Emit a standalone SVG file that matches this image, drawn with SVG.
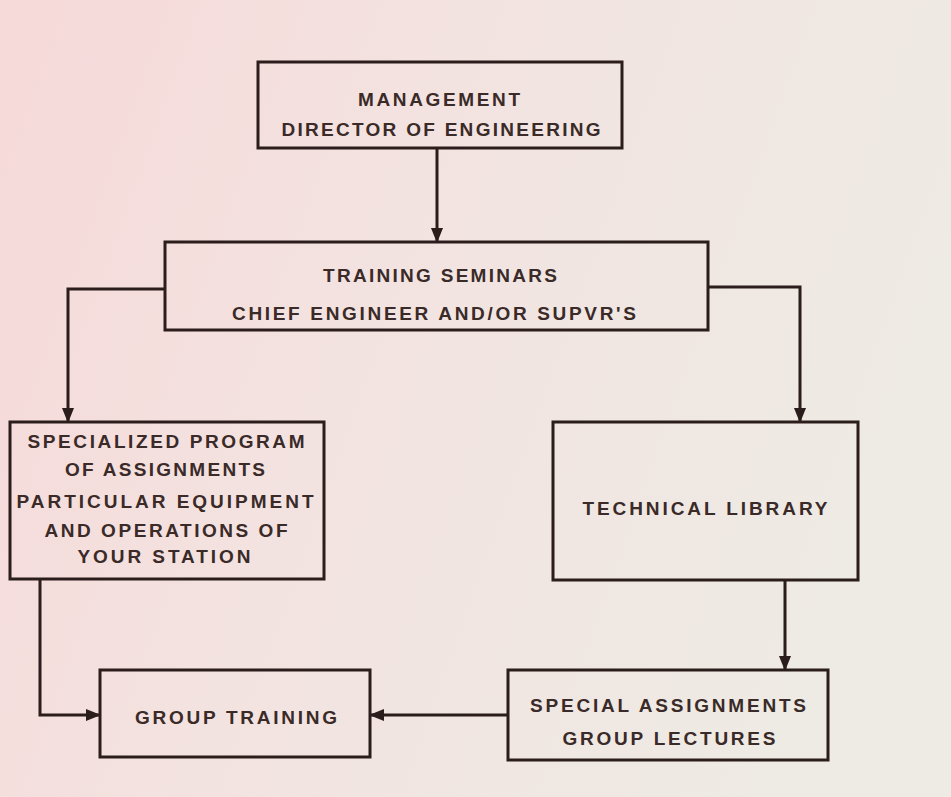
<svg xmlns="http://www.w3.org/2000/svg" width="951" height="797" viewBox="0 0 951 797">
<defs>
<linearGradient id="bg" x1="0" y1="0" x2="1" y2="0.3">
<stop offset="0" stop-color="#f6d9d9"/>
<stop offset="0.45" stop-color="#f3e3e0"/>
<stop offset="1" stop-color="#eeeae4"/>
</linearGradient>
<marker id="ah" markerUnits="userSpaceOnUse" markerWidth="15" markerHeight="12" refX="14" refY="6" orient="auto">
<path d="M0,0 L15,6 L0,12 z" fill="#2a1d1b"/>
</marker>
<style>
.box{fill:none;stroke:#2a1d1b;stroke-width:3}
.c{fill:none;stroke:#2a1d1b;stroke-width:3;marker-end:url(#ah)}
text{font-family:"Liberation Sans",Arial,sans-serif;font-weight:bold;font-size:19px;fill:#3a2a28;text-anchor:middle}
</style>
</defs>
<rect width="951" height="797" fill="url(#bg)"/>
<g id="connectors">
<path class="c" d="M437,148 V242"/>
<path class="c" d="M165,289 H68 V422"/>
<path class="c" d="M708,287 H800 V422"/>
<path class="c" d="M40,580 V715 H100"/>
<path class="c" d="M785,580 V670"/>
<path class="c" d="M508,715 H370"/>
</g>
<g id="management">
<rect class="box" x="258" y="62" width="364" height="86"/>
<text x="439" y="106" textLength="162" lengthAdjust="spacing">MANAGEMENT</text>
<text x="441" y="136" textLength="319" lengthAdjust="spacing">DIRECTOR OF  ENGINEERING</text>
</g>
<g id="training-seminars">
<rect class="box" x="165" y="242" width="543" height="88"/>
<text x="440" y="282" textLength="234" lengthAdjust="spacing">TRAINING SEMINARS</text>
<text x="434" y="320" textLength="404" lengthAdjust="spacing">CHIEF ENGINEER AND/OR SUPVR'S</text>
</g>
<g id="specialized-program">
<rect class="box" x="10" y="422" width="314" height="157"/>
<text x="166" y="448" textLength="277" lengthAdjust="spacing">SPECIALIZED PROGRAM</text>
<text x="165" y="476" textLength="200" lengthAdjust="spacing">OF ASSIGNMENTS</text>
<text x="165" y="508" textLength="297" lengthAdjust="spacing">PARTICULAR EQUIPMENT</text>
<text x="166" y="537" textLength="243" lengthAdjust="spacing">AND OPERATIONS OF</text>
<text x="164" y="563" textLength="173" lengthAdjust="spacing">YOUR STATION</text>
</g>
<g id="technical-library">
<rect class="box" x="553" y="422" width="305" height="158"/>
<text x="705" y="515" textLength="245" lengthAdjust="spacing">TECHNICAL LIBRARY</text>
</g>
<g id="group-training">
<rect class="box" x="100" y="670" width="270" height="87"/>
<text x="236" y="724" textLength="202" lengthAdjust="spacing">GROUP TRAINING</text>
</g>
<g id="special-assignments">
<rect class="box" x="508" y="670" width="320" height="90"/>
<text x="668" y="712" textLength="276" lengthAdjust="spacing">SPECIAL  ASSIGNMENTS</text>
<text x="669" y="745" textLength="213" lengthAdjust="spacing">GROUP  LECTURES</text>
</g>
</svg>
